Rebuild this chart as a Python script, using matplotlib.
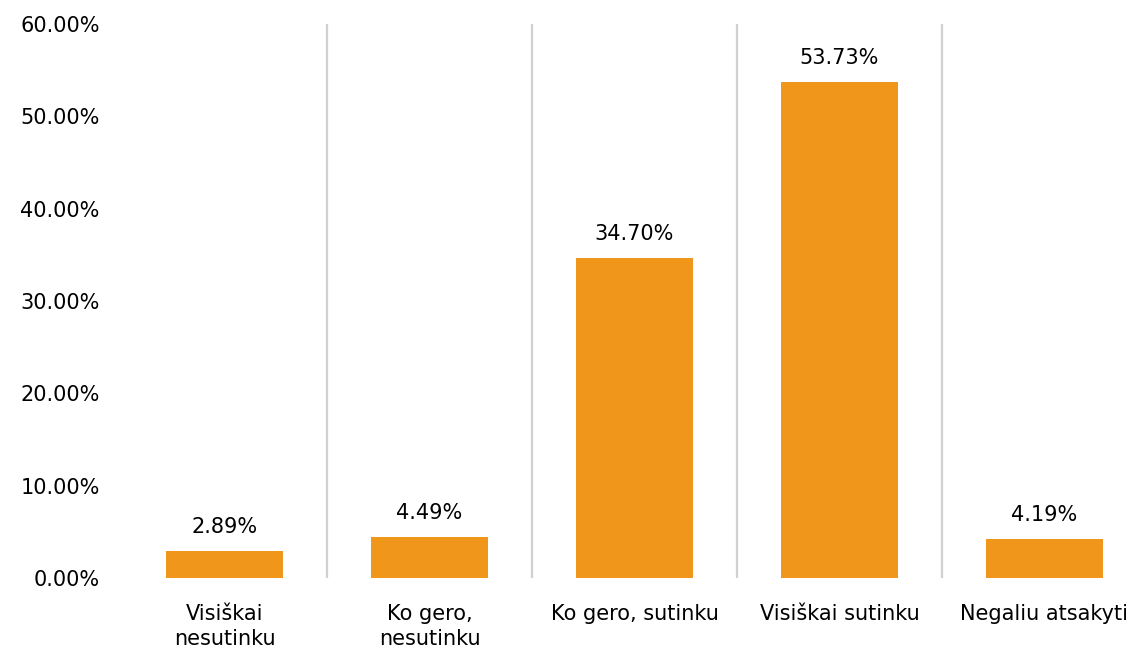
import matplotlib.pyplot as plt
from matplotlib.ticker import FuncFormatter

categories = ["Visiškai\nnesutinku", "Ko gero,\nnesutinku", "Ko gero, sutinku",
              "Visiškai sutinku", "Negaliu atsakyti"]
values = [2.89, 4.49, 34.70, 53.73, 4.19]
y_ticks = [0, 10, 20, 30, 40, 50, 60]

bar_color = "#F0961A"
plt.rcParams['font.family'] = ['DejaVu Sans']

fig = plt.figure(figsize=(11.45, 6.56), dpi=100)
ax = fig.add_axes([122 / 1145, 78 / 656, 1025 / 1145, 554 / 656])

x = list(range(len(categories)))
bars = ax.bar(x, values, width=0.575, color=bar_color, zorder=3)

# value labels above bars
for xi, v in zip(x, values):
    ax.text(xi, v + 1.5, f"{v:.2f}%", ha="center", va="bottom", fontsize=15, color="black")

# vertical separators between categories
for b in [0.5, 1.5, 2.5, 3.5]:
    ax.axvline(b, color="#d0d0d0", lw=1.6, zorder=1)

ax.set_xlim(-0.5, 4.5)
ax.set_ylim(0, 60)
ax.set_yticks(y_ticks)
ax.yaxis.set_major_formatter(FuncFormatter(lambda v, p: f"{v:.2f}%"))
ax.set_xticks(x)
ax.set_xticklabels(categories, fontsize=15, linespacing=1.3)
ax.tick_params(axis="y", length=0, pad=16, labelsize=15)
ax.tick_params(axis="x", length=0, pad=19)

for s in ax.spines.values():
    s.set_visible(False)

fig.savefig("out.png", dpi=100)
